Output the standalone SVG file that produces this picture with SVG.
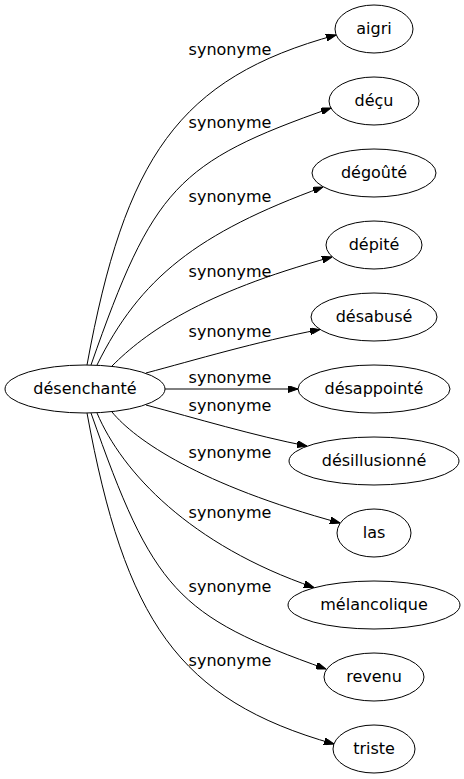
<svg xmlns="http://www.w3.org/2000/svg" width="464" height="779" viewBox="0 0 464 779">
<style>
.node ellipse{fill:none;stroke:#000;stroke-width:1}
.node text{font-family:"DejaVu Sans",Verdana,sans-serif;font-size:16px;text-anchor:middle;fill:#000}
.edges path{fill:none;stroke:#000;stroke-width:1}
.edges text{font-family:"DejaVu Sans",Verdana,sans-serif;font-size:16px;text-anchor:middle;fill:#000}
</style>
<defs>
<marker id="arr" viewBox="0 0 10 7" refX="10" refY="3.5" markerWidth="10" markerHeight="7" markerUnits="userSpaceOnUse" orient="auto">
<path d="M0,0 L10,3.5 L0,7 z" fill="#000" stroke="#000"/>
</marker>
</defs>
<rect width="464" height="779" fill="#fff"/>
<g id="edges" class="edges">
<path marker-end="url(#arr)" d="M87,365 C125,158 178,78 336,35"/>
<path marker-end="url(#arr)" d="M91,365 C153,188 177,162 331,108"/>
<path marker-end="url(#arr)" d="M97,365 C140,278 197,233 323,187"/>
<path marker-end="url(#arr)" d="M112,366 C145,333 200,293 332,257"/>
<path marker-end="url(#arr)" d="M146,373 C195,360 255,342 320,329.5"/>
<path marker-end="url(#arr)" d="M165,389 L298,389"/>
<path marker-end="url(#arr)" d="M146,405 C195,418 255,436 307,446"/>
<path marker-end="url(#arr)" d="M112,412 C135,440 200,485 340,523"/>
<path marker-end="url(#arr)" d="M97,413 C122,472 190,545 314,587.5"/>
<path marker-end="url(#arr)" d="M91,413 C153,590 177,616 326,669"/>
<path marker-end="url(#arr)" d="M87,413 C125,620 178,700 334,744"/>
<text x="230" y="55">synonyme</text>
<text x="230" y="128">synonyme</text>
<text x="230" y="202">synonyme</text>
<text x="230" y="277">synonyme</text>
<text x="230" y="337">synonyme</text>
<text x="230" y="383">synonyme</text>
<text x="230" y="411">synonyme</text>
<text x="230" y="458">synonyme</text>
<text x="230" y="518">synonyme</text>
<text x="230" y="592">synonyme</text>
<text x="230" y="666">synonyme</text>
</g>
<g id="n0" class="node"><ellipse cx="85" cy="389" rx="80" ry="24"/><text x="85" y="394">désenchanté</text></g>
<g id="n1" class="node"><ellipse cx="374" cy="29" rx="39" ry="24"/><text x="374" y="34">aigri</text></g>
<g id="n2" class="node"><ellipse cx="374" cy="101" rx="45" ry="24"/><text x="374" y="106">déçu</text></g>
<g id="n3" class="node"><ellipse cx="374" cy="173" rx="62" ry="24"/><text x="374" y="178">dégoûté</text></g>
<g id="n4" class="node"><ellipse cx="374" cy="245" rx="48" ry="24"/><text x="374" y="250">dépité</text></g>
<g id="n5" class="node"><ellipse cx="374" cy="317" rx="63" ry="24"/><text x="374" y="322">désabusé</text></g>
<g id="n6" class="node"><ellipse cx="374" cy="389" rx="76" ry="24"/><text x="374" y="394">désappointé</text></g>
<g id="n7" class="node"><ellipse cx="374" cy="461" rx="85" ry="24"/><text x="374" y="466">désillusionné</text></g>
<g id="n8" class="node"><ellipse cx="374" cy="533" rx="37" ry="24"/><text x="374" y="538">las</text></g>
<g id="n9" class="node"><ellipse cx="374" cy="605" rx="86" ry="24"/><text x="374" y="610">mélancolique</text></g>
<g id="n10" class="node"><ellipse cx="374" cy="677" rx="50" ry="24"/><text x="374" y="682">revenu</text></g>
<g id="n11" class="node"><ellipse cx="374" cy="749" rx="41" ry="24"/><text x="374" y="754">triste</text></g>
</svg>
